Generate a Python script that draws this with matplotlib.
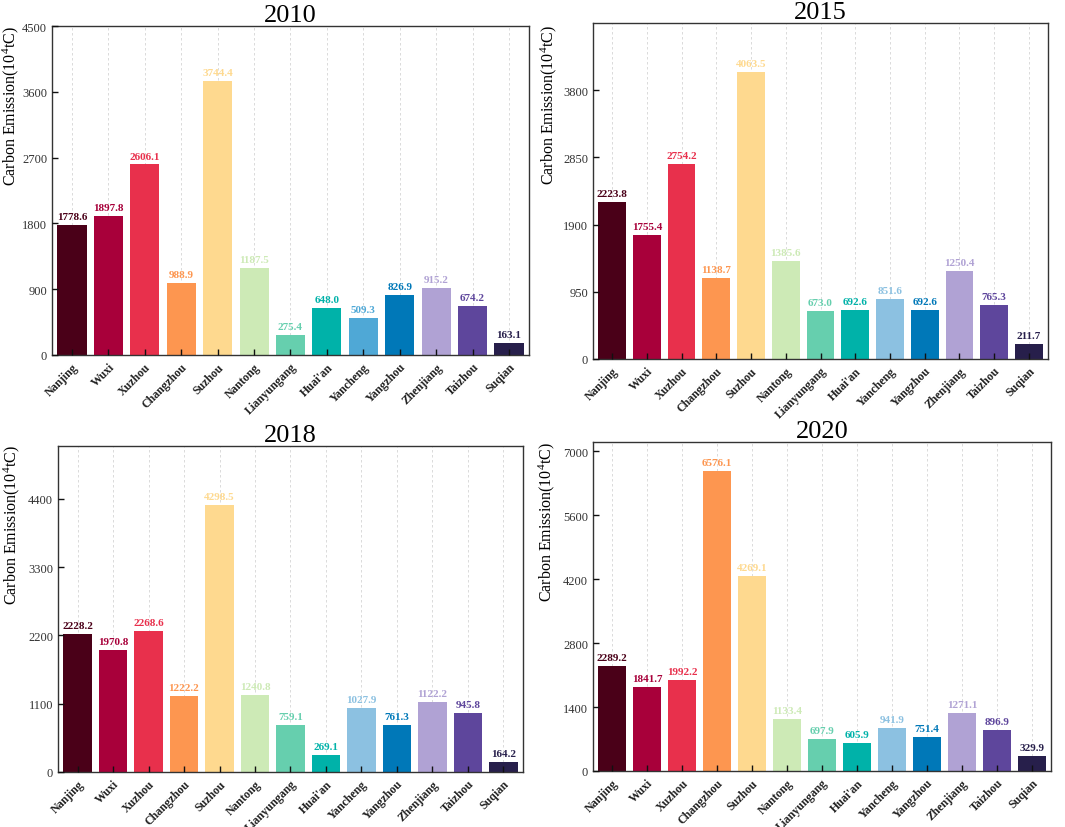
import matplotlib
matplotlib.use("Agg")
import matplotlib.pyplot as plt
import numpy as np

# ── Data ───────────────────────────────────────────────────────────────────
CITIES = ["Nanjing", "Wuxi", "Xuzhou", "Changzhou", "Suzhou", "Nantong",
          "Lianyungang", "Huai'an", "Yancheng", "Yangzhou", "Zhenjiang",
          "Taizhou", "Suqian"]

YEARS = ["2010", "2015", "2018", "2020"]

EMISSION_2010 = [1778.6, 1897.8, 2606.1, 988.9, 3744.4, 1187.5, 275.4,
                 648.0, 509.3, 826.9, 915.2, 674.2, 163.1]
EMISSION_2015 = [2223.8, 1755.4, 2754.2, 1138.7, 4063.5, 1385.6, 673.0,
                 692.6, 851.6, 692.6, 1250.4, 765.3, 211.7]
EMISSION_2018 = [2228.2, 1970.8, 2268.6, 1222.2, 4298.5, 1240.8, 759.1,
                 269.1, 1027.9, 761.3, 1122.2, 945.8, 164.2]
EMISSION_2020 = [2289.2, 1841.7, 1992.2, 6576.1, 4269.1, 1133.4, 697.9,
                 605.9, 941.9, 751.4, 1271.1, 896.9, 329.9]

YTICKS_2010 = [0, 900, 1800, 2700, 3600, 4500]
YTICKS_2015 = [0, 950, 1900, 2850, 3800]
YTICKS_2018 = [0, 1100, 2200, 3300, 4400]
YTICKS_2020 = [0, 1400, 2800, 4200, 5600, 7000]

# ── Style ──────────────────────────────────────────────────────────────────
COLORS = ["#4a0018", "#a8003a", "#e8304c", "#fd9650", "#fed98f", "#cdeab6",
          "#66cfae", "#00b2a9", "#8cc1e1", "#0078b8", "#b0a2d4", "#5e469c",
          "#271f4b"]
COLORS_2010 = COLORS.copy()
COLORS_2010[8] = "#4fa8d6"   # Yancheng is a deeper blue in the 2010 panel

plt.rcParams.update({
    "font.family": ["Liberation Serif", "DejaVu Serif"],
    "mathtext.fontset": "custom",
    "mathtext.rm": "Liberation Serif",
    "mathtext.it": "Liberation Serif:italic",
})

# axes boxes in pixels: (left, top, right, bottom), plus ylabel x offset (px)
W, H = 1065, 828
PANELS = [
    ("2010", EMISSION_2010, YTICKS_2010, 4500, COLORS_2010, (52, 27, 529, 356), 31),
    ("2015", EMISSION_2015, YTICKS_2015, 4750, COLORS, (593, 24, 1048, 360), 34),
    ("2018", EMISSION_2018, YTICKS_2018, 5250, COLORS, (58, 447, 523, 773), 36),
    ("2020", EMISSION_2020, YTICKS_2020, 7200, COLORS, (593, 443, 1051, 772), 36),
]

fig = plt.figure(figsize=(W / 100, H / 100), dpi=100)

for title, values, yticks, ytop, colors, (l, t, r, b), lab_dx in PANELS:
    ax = fig.add_axes([l / W, (H - b) / H, (r - l) / W, (b - t) / H])
    x = np.arange(len(CITIES))

    # dashed vertical guides behind the bars
    for xi in x:
        ax.axvline(xi, linestyle=(0, (3, 3)), linewidth=0.6,
                   color="#d4d4d4", zorder=0)

    ax.bar(x, values, width=0.8, color=colors, zorder=1)

    for xi, v, c in zip(x, values, colors):
        ax.text(xi, v + ytop * 0.012, f"{v:.1f}", ha="center", va="bottom",
                fontsize=8, fontweight="bold", color=c, zorder=4)

    ax.set_xlim(-0.55, len(CITIES) - 0.45)
    ax.set_ylim(0, ytop)
    ax.set_yticks(yticks)
    ax.set_yticklabels([str(v) for v in yticks], fontsize=9, color="#333333")
    ax.set_xticks(x)
    ax.set_xticklabels(CITIES, rotation=45, ha="right", rotation_mode="anchor",
                       fontsize=8.5, fontweight="bold", color="#222222")
    ax.tick_params(axis="both", direction="in", length=4, width=1.0,
                   color="#111111")
    ax.tick_params(axis="x", pad=4)
    ax.set_axisbelow(False)
    for s in ax.spines.values():
        s.set_linewidth(1.0)
        s.set_color("#333333")

    ax.set_title(title, fontsize=19, pad=2)
    ax.set_ylabel(r"Carbon Emission(10$^{4}$tC)", fontsize=11.5)
    ax.yaxis.set_label_coords(-lab_dx / (r - l), 0.76)

fig.savefig("out.png", dpi=100)
plt.close(fig)
